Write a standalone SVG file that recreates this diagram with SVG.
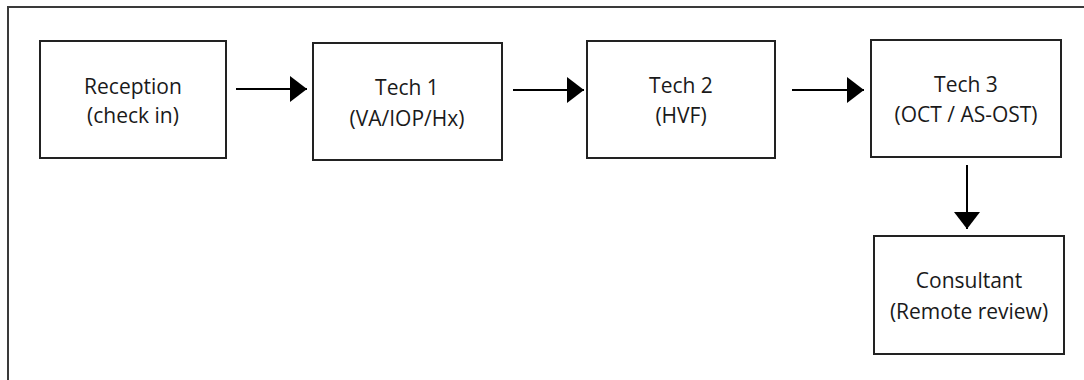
<svg xmlns="http://www.w3.org/2000/svg" width="1084" height="380" viewBox="0 0 1084 380">
<style>
.frame{fill:#fff;stroke:#3a3a3a;stroke-width:2}
.box{fill:#fff;stroke:#222;stroke-width:2}
.lbl{font-family:"Open Sans","Noto Sans",sans-serif;font-size:21px;fill:#1a1a1a;text-anchor:middle}
.conn{stroke:#000;stroke-width:2;fill:none}
</style>
<defs>
<marker id="ah" markerUnits="userSpaceOnUse" markerWidth="17" markerHeight="26" refX="17" refY="13" orient="auto">
<path d="M0,0 L17,13 L0,26 Z" fill="#000"/>
</marker>
</defs>
<rect x="0" y="0" width="1084" height="380" fill="#fff"/>
<rect class="frame" x="8" y="7" width="1100" height="400"/>
<g id="reception">
<rect class="box" x="40" y="41" width="186" height="117"/>
<text class="lbl" x="133" y="94">Reception</text>
<text class="lbl" x="133" y="123">(check in)</text>
</g>
<g id="tech1">
<rect class="box" x="313" y="43" width="189" height="117"/>
<text class="lbl" x="407" y="95">Tech 1</text>
<text class="lbl" x="407" y="126">(VA/IOP/Hx)</text>
</g>
<g id="tech2">
<rect class="box" x="587" y="41" width="188" height="117"/>
<text class="lbl" x="681" y="93">Tech 2</text>
<text class="lbl" x="681" y="123">(HVF)</text>
</g>
<g id="tech3">
<rect class="box" x="871" y="40" width="190" height="117"/>
<text class="lbl" x="966" y="92">Tech 3</text>
<text class="lbl" x="966" y="122">(OCT / AS-OST)</text>
</g>
<g id="consultant">
<rect class="box" x="874" y="236" width="190" height="118"/>
<text class="lbl" x="969" y="288">Consultant</text>
<text class="lbl" x="969" y="319">(Remote review)</text>
</g>
<g id="connectors">
<line class="conn" x1="236" y1="89" x2="307" y2="89" marker-end="url(#ah)"/>
<line class="conn" x1="513" y1="90" x2="584" y2="90" marker-end="url(#ah)"/>
<line class="conn" x1="792" y1="90" x2="864" y2="90" marker-end="url(#ah)"/>
<line class="conn" x1="967" y1="165" x2="967" y2="229" marker-end="url(#ah)"/>
</g>
</svg>
